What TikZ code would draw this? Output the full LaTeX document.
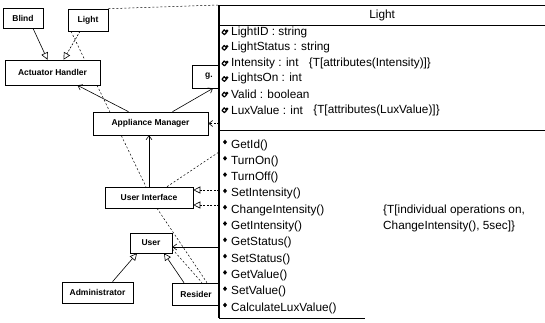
\documentclass[tikz,border=0pt]{standalone}
\usepackage{fontspec}
\setmainfont{Liberation Sans}
\usetikzlibrary{arrows.meta, positioning, backgrounds}

\begin{document}
\begin{tikzpicture}[x=1pt, y=-1pt]

\tikzset{
  cls/.style     = {rectangle, draw=black, line width=0.6pt, fill=white,
                    inner sep=1pt, font=\fontsize{8.5}{9}\selectfont\bfseries},
  gen/.style     = {-{Triangle[open, length=7pt, width=7pt]}, line width=0.6pt},
  realize/.style = {gen, dash pattern=on 2pt off 1.5pt},
  assoc/.style   = {-{Straight Barb[length=4pt, width=6pt]}, line width=0.6pt},
  dep/.style     = {assoc, dash pattern=on 2pt off 1.5pt},
  dline/.style   = {line width=0.5pt, dash pattern=on 2pt off 2pt},
  row/.style     = {anchor=west, inner sep=0pt, font=\fontsize{11.8}{14}\selectfont},
  clsline/.style = {line width=0.6pt},
  attrico/.pic   = {\draw[line width=1.2pt, line join=round] (-3,0.5) -- (-0.8,-2.2) -- (1.6,0.3) -- (-0.6,2.6) -- cycle;
                    \fill (2,-1.2) circle (1.5pt);},
  opico/.pic     = {\fill (0,-2.4) -- (2,0) -- (0,2.4) -- (-2,0) -- cycle;}
}

\useasboundingbox (0,0) rectangle (545,322);

%% ---- class box frame (filled later) -----------------------------
\node[minimum width=326pt, minimum height=313pt, inner sep=0pt,
      anchor=north west] (lightcls) at (219,5) {};

%% ---- left diagram ------------------------------------------------
\node[cls, minimum width=40pt,  minimum height=20pt] (blind)    at (23,18)     {Blind};
\node[cls, minimum width=40pt,  minimum height=22pt] (litebox)  at (88,20)     {Light};
\node[cls, minimum width=95pt,  minimum height=25pt] (actuator) at (52.5,72.5) {Actuator Handler};
\node[cls, minimum width=34pt,  minimum height=23pt] (gbox)     at (209,76.5)  {g.};
\node[cls, minimum width=115pt, minimum height=23pt] (appl)     at (150.5,123.5) {Appliance Manager};
\node[cls, minimum width=88pt,  minimum height=21pt] (ui)       at (149,197.5) {User Interface};
\node[cls, minimum width=42pt,  minimum height=20pt] (user)     at (151,243)   {User};
\node[cls, minimum width=71pt,  minimum height=21pt] (admin)    at (97.5,292.5) {Administrator};
\node[cls, minimum width=48pt,  minimum height=22pt] (resider)  at (196,294)   {Resider};

\coordinate (uilink) at (219,152);
\coordinate (uiA) at ([yshift=7.5pt]ui.east);
\coordinate (uiB) at ([yshift=-7.5pt]ui.east);
\coordinate (userin) at ([yshift=-4pt]user.east);

%% ---- dashed dependencies behind the boxes --------------------------
\begin{scope}[on background layer]
  \draw[dline] (litebox.north east) -- (lightcls.north west);
  \draw[dline] ([xshift=-17pt]litebox.south) -- ([xshift=-3pt]ui.north);
  \draw[dline] ([xshift=8pt]ui.south) -- ([xshift=11pt]resider.north);
  \draw[dline] ([yshift=-6pt]user.east) -- ([xshift=6pt]resider.north);
  \draw[dline] ([xshift=18pt]ui.north) -- (uilink);
\end{scope}

%% ---- connectors ----------------------------------------------------
\draw[gen]     ([xshift=10pt]blind.south)   -- ([xshift=-5pt]actuator.north);
\draw[realize] ([xshift=-8pt]litebox.south) -- ([xshift=11pt]actuator.north);
\draw[assoc]   ([xshift=-22pt]appl.north)   -- ([xshift=25pt]actuator.south);
\draw[assoc]   ([xshift=22pt]appl.north)    -- ([xshift=4pt]gbox.south);
\draw[dep]     (lightcls.west |- appl.east) -- (appl.east);
\draw[assoc]   (ui.north) -- (ui.north |- appl.south);
\draw[realize] (uiA -| lightcls.west) -- (uiA);
\draw[realize] (uiB -| lightcls.west) -- (uiB);
\draw[assoc]   (userin -| lightcls.west) -- (userin);
\draw[gen]     ([xshift=15pt]admin.north)    -- ([xshift=-14pt]user.south);
\draw[gen]     ([xshift=-12pt]resider.north) -- ([xshift=13pt]user.south);

%% ---- class Light ---------------------------------------------------
\fill[white] (lightcls.north west) rectangle (lightcls.south east);
\draw[clsline] (lightcls.north west) -- (lightcls.north east);
\draw[clsline] ([yshift=-20pt]lightcls.north west) -- ([yshift=-20pt]lightcls.north east);
\draw[clsline] ([yshift=-125pt]lightcls.north west) -- ([yshift=-125pt]lightcls.north east);
\draw[line width=1.1pt] (lightcls.north west) -- (lightcls.south west);
\draw[clsline] (lightcls.south west) -- ++(146,0);

\node[font=\fontsize{11.8}{14}\selectfont] (clsname) at ([yshift=-10pt]lightcls.north) {Light};

\foreach \attr [count=\i from 0] in {LightID : string, LightStatus : string,
    Intensity : int, LightsOn : int, Valid : boolean, LuxValue : int}{
  \pic at (225,{32+15.6*\i}) {attrico};
  \node[row] (attr\i) at (231,{32+15.6*\i}) {\attr};
}
\node[row, right=10pt of attr2] (cons1) {\{T[attributes(Intensity)]\}};
\node[row, right=10pt of attr5] (cons2) {\{T[attributes(LuxValue)]\}};

\foreach \op [count=\i from 0] in {GetId(), TurnOn(), TurnOff(), SetIntensity(),
    ChangeIntensity(), GetIntensity(), GetStatus(), SetStatus(), GetValue(),
    SetValue(), CalculateLuxValue()}{
  \pic at (225,{142+16.3*\i}) {opico};
  \node[row] (op\i) at (231,{145+16.3*\i}) {\op};
}
\node[row] (cons3) at ([xshift=152pt]op4.west) {\{T[individual operations on,};
\node[row] (cons4) at ([xshift=152pt]op5.west) {ChangeIntensity(), 5sec]\}};

\end{tikzpicture}
\end{document}
